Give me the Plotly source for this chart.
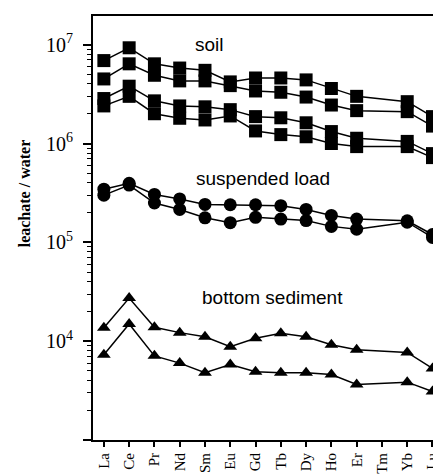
import plotly.graph_objects as go

elements = ["La", "Ce", "Pr", "Nd", "Sm", "Eu", "Gd", "Tb", "Dy", "Ho", "Er", "Tm", "Yb", "Lu"]

soil_1 = [6.9e6, 9.3e6, 6.4e6, 5.8e6, 5.5e6, 4.2e6, 4.6e6, 4.6e6, 4.4e6, 3.6e6, 3.0e6, None, 2.65e6, 1.87e6]
soil_2 = [4.5e6, 6.4e6, 4.9e6, 4.3e6, 4.3e6, 3.85e6, 3.4e6, 3.3e6, 2.95e6, 2.45e6, 2.15e6, None, 2.1e6, 1.5e6]
soil_3 = [2.85e6, 3.8e6, 2.7e6, 2.4e6, 2.35e6, 2.2e6, 1.87e6, 1.82e6, 1.62e6, 1.32e6, 1.13e6, None, 1.05e6, 7.9e5]
soil_4 = [2.4e6, 3.0e6, 2.0e6, 1.8e6, 1.73e6, 1.9e6, 1.34e6, 1.23e6, 1.17e6, 1.0e6, 0.93e6, None, 0.93e6, 7.2e5]

susp_1 = [3.45e5, 3.95e5, 3.05e5, 2.75e5, 2.42e5, 2.4e5, 2.4e5, 2.35e5, 2.15e5, 1.87e5, 1.72e5, None, 1.65e5, 1.2e5]
susp_2 = [3.0e5, 3.8e5, 2.5e5, 2.15e5, 1.77e5, 1.58e5, 1.79e5, 1.72e5, 1.66e5, 1.45e5, 1.36e5, None, 1.6e5, 1.12e5]

bot_1 = [1.37e4, 2.73e4, 1.38e4, 1.22e4, 1.11e4, 8.8e3, 1.07e4, 1.2e4, 1.11e4, 9.2e3, 8.2e3, None, 7.7e3, 5.3e3]
bot_2 = [7.3e3, 1.49e4, 7.1e3, 6.0e3, 4.8e3, 5.8e3, 4.9e3, 4.8e3, 4.8e3, 4.6e3, 3.65e3, None, 3.85e3, 3.1e3]

y_major = [1e3, 1e4, 1e5, 1e6, 1e7]
y_labels = ["", "10<sup>4</sup>", "10<sup>5</sup>", "10<sup>6</sup>", "10<sup>7</sup>"]
y_minor = [m * 10 ** e for e in range(3, 8) for m in range(2, 10)]

fig = go.Figure()

groups = [
    ([soil_1, soil_2, soil_3, soil_4], "square", 13),
    ([susp_1, susp_2], "circle", 13),
    ([bot_1, bot_2], "triangle-up", 12),
]
for series_list, sym, size in groups:
    for s in series_list:
        fig.add_trace(go.Scatter(
            x=elements, y=s, mode="lines+markers", connectgaps=True,
            line=dict(color="black", width=1.5),
            marker=dict(symbol=sym, size=size, color="black"),
            showlegend=False,
        ))

fig.update_layout(
    width=433, height=474,
    margin=dict(l=93, r=0, t=16, b=34),
    paper_bgcolor="white", plot_bgcolor="white",
    template="none",
)
fig.update_xaxes(
    type="category", categoryorder="array", categoryarray=elements,
    range=[-0.43, 13.02],
    showline=True, linecolor="black", linewidth=2, mirror=True,
    ticks="outside", ticklen=5, tickwidth=1.5, tickcolor="black",
    tickangle=-90, showgrid=False, zeroline=False, automargin=False,
    tickfont=dict(family="Liberation Serif", size=15, color="black"),
)
fig.update_yaxes(
    type="log", range=[3, 7.29],
    showline=True, linecolor="black", linewidth=2,
    tickmode="array", tickvals=y_major, ticktext=y_labels,
    ticks="outside", ticklen=8, tickwidth=1.5, tickcolor="black",
    minor=dict(tickmode="array", tickvals=y_minor, ticks="outside", ticklen=4, tickwidth=1, tickcolor="black", showgrid=False),
    showgrid=False, zeroline=False, automargin=False,
    ticklabelstandoff=6,
    tickfont=dict(family="Liberation Serif", size=20, color="black"),
)

anno_font = dict(family="Liberation Sans", size=19, color="black")
fig.add_annotation(x=4.17, y=7.0, xref="x", yref="y", text="soil", showarrow=False, font=anno_font)
fig.add_annotation(x=6.3, y=5.646, xref="x", yref="y", text="suspended load", showarrow=False, font=anno_font)
fig.add_annotation(x=6.68, y=4.444, xref="x", yref="y", text="bottom sediment", showarrow=False, font=anno_font)
fig.add_annotation(x=-0.232, y=0.581, xref="paper", yref="paper", text="<b>leachate / water</b>",
                   textangle=-90, showarrow=False,
                   font=dict(family="Liberation Serif", size=16, color="black"))

fig.write_html(
    "out.html",
    config={"displayModeBar": False},
    post_script="document.body.style.margin='0';document.body.style.overflow='hidden';",
)
